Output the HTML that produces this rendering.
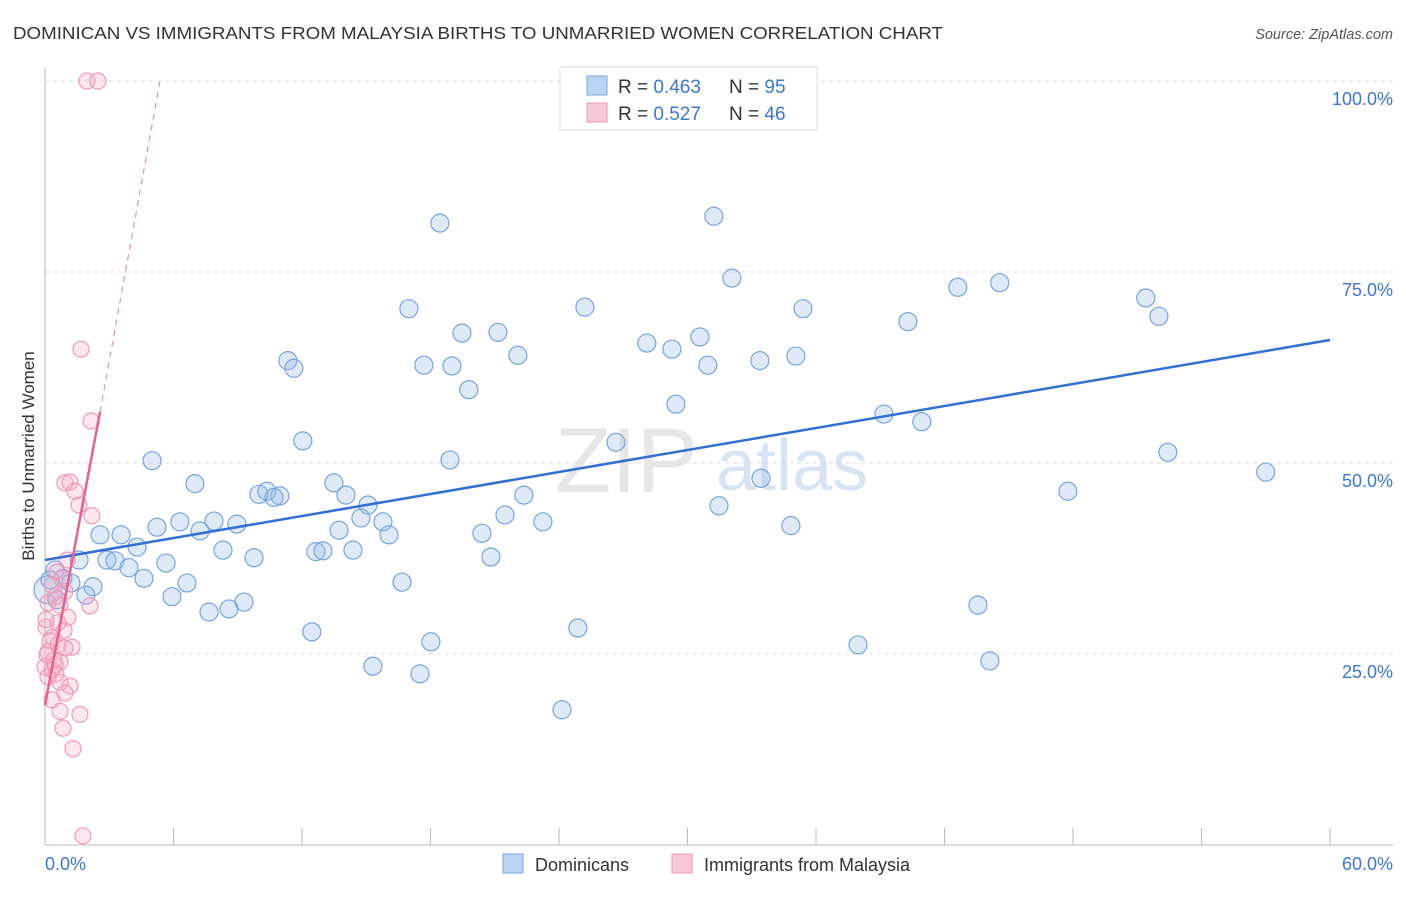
<!DOCTYPE html>
<html><head><meta charset="utf-8">
<style>
body{margin:0;background:#fff;font-family:"Liberation Sans",sans-serif;}
svg text{font-family:"Liberation Sans",sans-serif;}
</style></head>
<body>
<svg id="chart" width="1406" height="892" viewBox="0 0 1406 892" xmlns="http://www.w3.org/2000/svg">
<text x="13" y="39" font-size="17.5" fill="#333" textLength="930" lengthAdjust="spacingAndGlyphs">DOMINICAN VS IMMIGRANTS FROM MALAYSIA BIRTHS TO UNMARRIED WOMEN CORRELATION CHART</text>
<text x="1393" y="39" font-size="14.5" fill="#555" text-anchor="end" font-style="italic">Source: ZipAtlas.com</text>
<g>
<text x="555" y="492" font-size="92" fill="#ddd" font-family="Liberation Serif" opacity="0.7">ZIP</text>
<text x="716" y="490" font-size="72" fill="#c8daf0" opacity="0.7">atlas</text>
</g>
<g id="grid"></g>
<g id="axes"></g>
<g id="marks"></g>
<text transform="translate(34,456) rotate(-90)" font-size="17" fill="#333" text-anchor="middle">Births to Unmarried Women</text>
<g>
<rect x="560" y="67" width="257" height="63" fill="#fff" stroke="#ddd"/>
<rect x="587" y="76" width="20" height="19" fill="#bcd4f4" stroke="#7aa6e4"/>
<rect x="587" y="103" width="20" height="19" fill="#f9c8d6" stroke="#ef9ab5"/>
<text x="618" y="93" font-size="19" fill="#333">R = <tspan fill="#3a78d8">0.463</tspan></text>
<text x="729" y="93" font-size="19" fill="#333">N = <tspan fill="#3a78d8">95</tspan></text>
<text x="618" y="120" font-size="19" fill="#333">R = <tspan fill="#3a78d8">0.527</tspan></text>
<text x="729" y="120" font-size="19" fill="#333">N = <tspan fill="#3a78d8">46</tspan></text>
</g>
<g>
<rect x="503" y="854" width="20" height="19" fill="#bcd4f4" stroke="#7aa6e4"/>
<text x="535" y="871" font-size="18" fill="#333">Dominicans</text>
<rect x="672" y="854" width="20" height="19" fill="#f9c8d6" stroke="#ef9ab5"/>
<text x="704" y="871" font-size="18" fill="#333">Immigrants from Malaysia</text>
</g>
</svg>
<script>
const blueX=[18.44,31.23,32.07,44.58,42.62,51.40,52.01,16.99,25.21,35.39,40.29,19.47,21.15,30.58,28.10,29.27,22.08,35.06,11.34,11.62,17.69,19.00,30.95,33.38,19.79,29.46,39.17,40.94,12.04,26.66,5.00,18.91,52.43,57.00,33.43,7.00,13.49,47.76,9.99,10.36,10.97,10.69,14.05,22.36,15.08,31.47,21.48,14.75,7.89,6.30,5.23,8.96,15.78,23.25,34.83,7.24,13.73,20.40,16.06,2.57,3.55,4.30,8.31,14.38,12.65,12.98,9.76,20.82,2.89,3.27,1.59,5.65,3.92,4.62,0.84,1.21,6.63,16.67,2.24,1.91,5.93,9.29,8.59,7.66,43.56,12.46,24.88,18.02,37.96,44.12,15.31,17.51,24.14,0.47,0.14,0.56,0.23];
const blueY=[81.4,82.3,74.2,73.6,73.0,71.6,69.2,70.2,70.4,70.2,68.5,67.0,67.1,66.5,65.7,64.9,64.1,64.0,63.4,62.4,62.8,62.7,62.8,63.4,59.6,57.7,56.4,55.4,52.9,52.7,50.3,50.4,51.4,48.8,48.0,47.3,47.4,46.3,45.9,46.3,45.7,45.5,45.8,45.8,44.5,44.4,43.2,42.8,42.4,42.3,41.6,42.0,42.3,42.3,41.8,41.1,41.2,40.8,40.6,40.6,40.6,39.0,38.6,38.6,38.4,38.5,37.6,37.7,37.3,37.2,37.3,36.9,36.3,34.9,34.9,34.3,34.3,34.4,33.8,32.7,32.5,31.8,30.9,30.5,31.4,27.9,28.4,26.6,26.2,24.1,23.4,22.4,17.7,36.0,33.4,32.1,34.7];
const pinkX=[1.96,2.47,1.68,2.15,0.93,1.17,1.40,1.59,2.19,1.03,0.56,0.79,0.33,0.93,0.47,0.14,2.10,0.70,1.07,0.05,0.89,0.37,0.23,0.61,1.26,0.93,0.14,0.42,0.70,0.00,0.33,0.51,0.14,0.70,1.17,0.93,0.33,0.70,1.63,0.84,1.31,1.77,0.05,0.61,0.09,0.47];
const pinkY=[100,100,64.9,55.5,47.4,47.5,46.3,44.5,43.1,37.3,35.7,34.9,34.0,33.2,32.5,31.7,31.3,31.4,29.8,28.5,28.1,27.2,26.7,26.2,25.9,25.8,25.3,24.2,24.0,23.3,22.9,22.4,22.0,21.3,20.8,19.9,19.0,17.5,17.1,15.3,12.6,1.2,29.5,29.1,24.9,23.6];
const blueLine=[[0,37.3],[60,66.1]];
const pinkSolid=[[0,18.3],[2.57,56.7]];
const pinkDashed=[[2.57,56.7],[5.37,100]];
const yTicks=[25,50,75,100];
const yTickLabels=["25.0%","50.0%","75.0%","100.0%"];
const xTicks=[0,6,12,18,24,30,36,42,48,54,60];

const NS="http://www.w3.org/2000/svg";
const sx=v=>45+v*(1285/60);
const sy=v=>845-v*7.64;
function mk(tag,attrs,parent){const e=document.createElementNS(NS,tag);for(const k in attrs)e.setAttribute(k,attrs[k]);parent.appendChild(e);return e;}
const grid=document.getElementById('grid'),axes=document.getElementById('axes'),marks=document.getElementById('marks');
yTicks.forEach((t,i)=>{
 const l=mk('line',{x1:45,x2:1393,y1:sy(t),y2:sy(t),stroke:'#ddd','stroke-dasharray':'4,4'},grid);
 
 
 const tx=mk('text',{x:1393,y:sy(t)+24,'font-size':18,fill:'#3a78d8','text-anchor':'end'},axes);
 tx.textContent=yTickLabels[i];
 
 
});
const ax=mk('line',{x1:45,x2:45,y1:68,y2:845,stroke:'#bbb'},axes);


const bx=mk('line',{x1:45,x2:1393,y1:845,y2:845,stroke:'#bbb'},axes);


xTicks.forEach(t=>{
 const l=mk('line',{x1:sx(t),x2:sx(t),y1:828,y2:845,stroke:'#bbb'},axes);
 
 
});
const x0=mk('text',{x:45,y:870,'font-size':18,fill:'#3a78d8'},axes);x0.textContent='0.0%';


const x1=mk('text',{x:1393,y:870,'font-size':18,fill:'#3a78d8','text-anchor':'end'},axes);x1.textContent='60.0%';



blueX.forEach((x,i)=>{
 const r=(x<0.2&&blueY[i]<34)?14:9;
 const c=mk('circle',{cx:sx(x),cy:sy(blueY[i]),r:r,fill:'rgba(150,185,235,0.3)',stroke:'#77a3e2','stroke-width':1.2},marks);
 
 
});
pinkX.forEach((x,i)=>{
 const c=mk('circle',{cx:sx(x),cy:sy(pinkY[i]),r:8,fill:'rgba(245,175,200,0.3)',stroke:'#ef9ab5','stroke-width':1.2},marks);
 
 
});
const bl=mk('line',{x1:sx(blueLine[0][0]),y1:sy(blueLine[0][1]),x2:sx(blueLine[1][0]),y2:sy(blueLine[1][1]),stroke:'#2f6fd6','stroke-width':2.5},marks);


const pl=mk('line',{x1:sx(pinkSolid[0][0]),y1:sy(pinkSolid[0][1]),x2:sx(pinkSolid[1][0]),y2:sy(pinkSolid[1][1]),stroke:'#e8608c','stroke-width':2.5},marks);


const pd=mk('line',{x1:sx(pinkDashed[0][0]),y1:sy(pinkDashed[0][1]),x2:sx(pinkDashed[1][0]),y2:sy(pinkDashed[1][1]),stroke:'#eb8fae','stroke-width':1.2,'stroke-dasharray':'6,5'},marks);


</script>
</body></html>
